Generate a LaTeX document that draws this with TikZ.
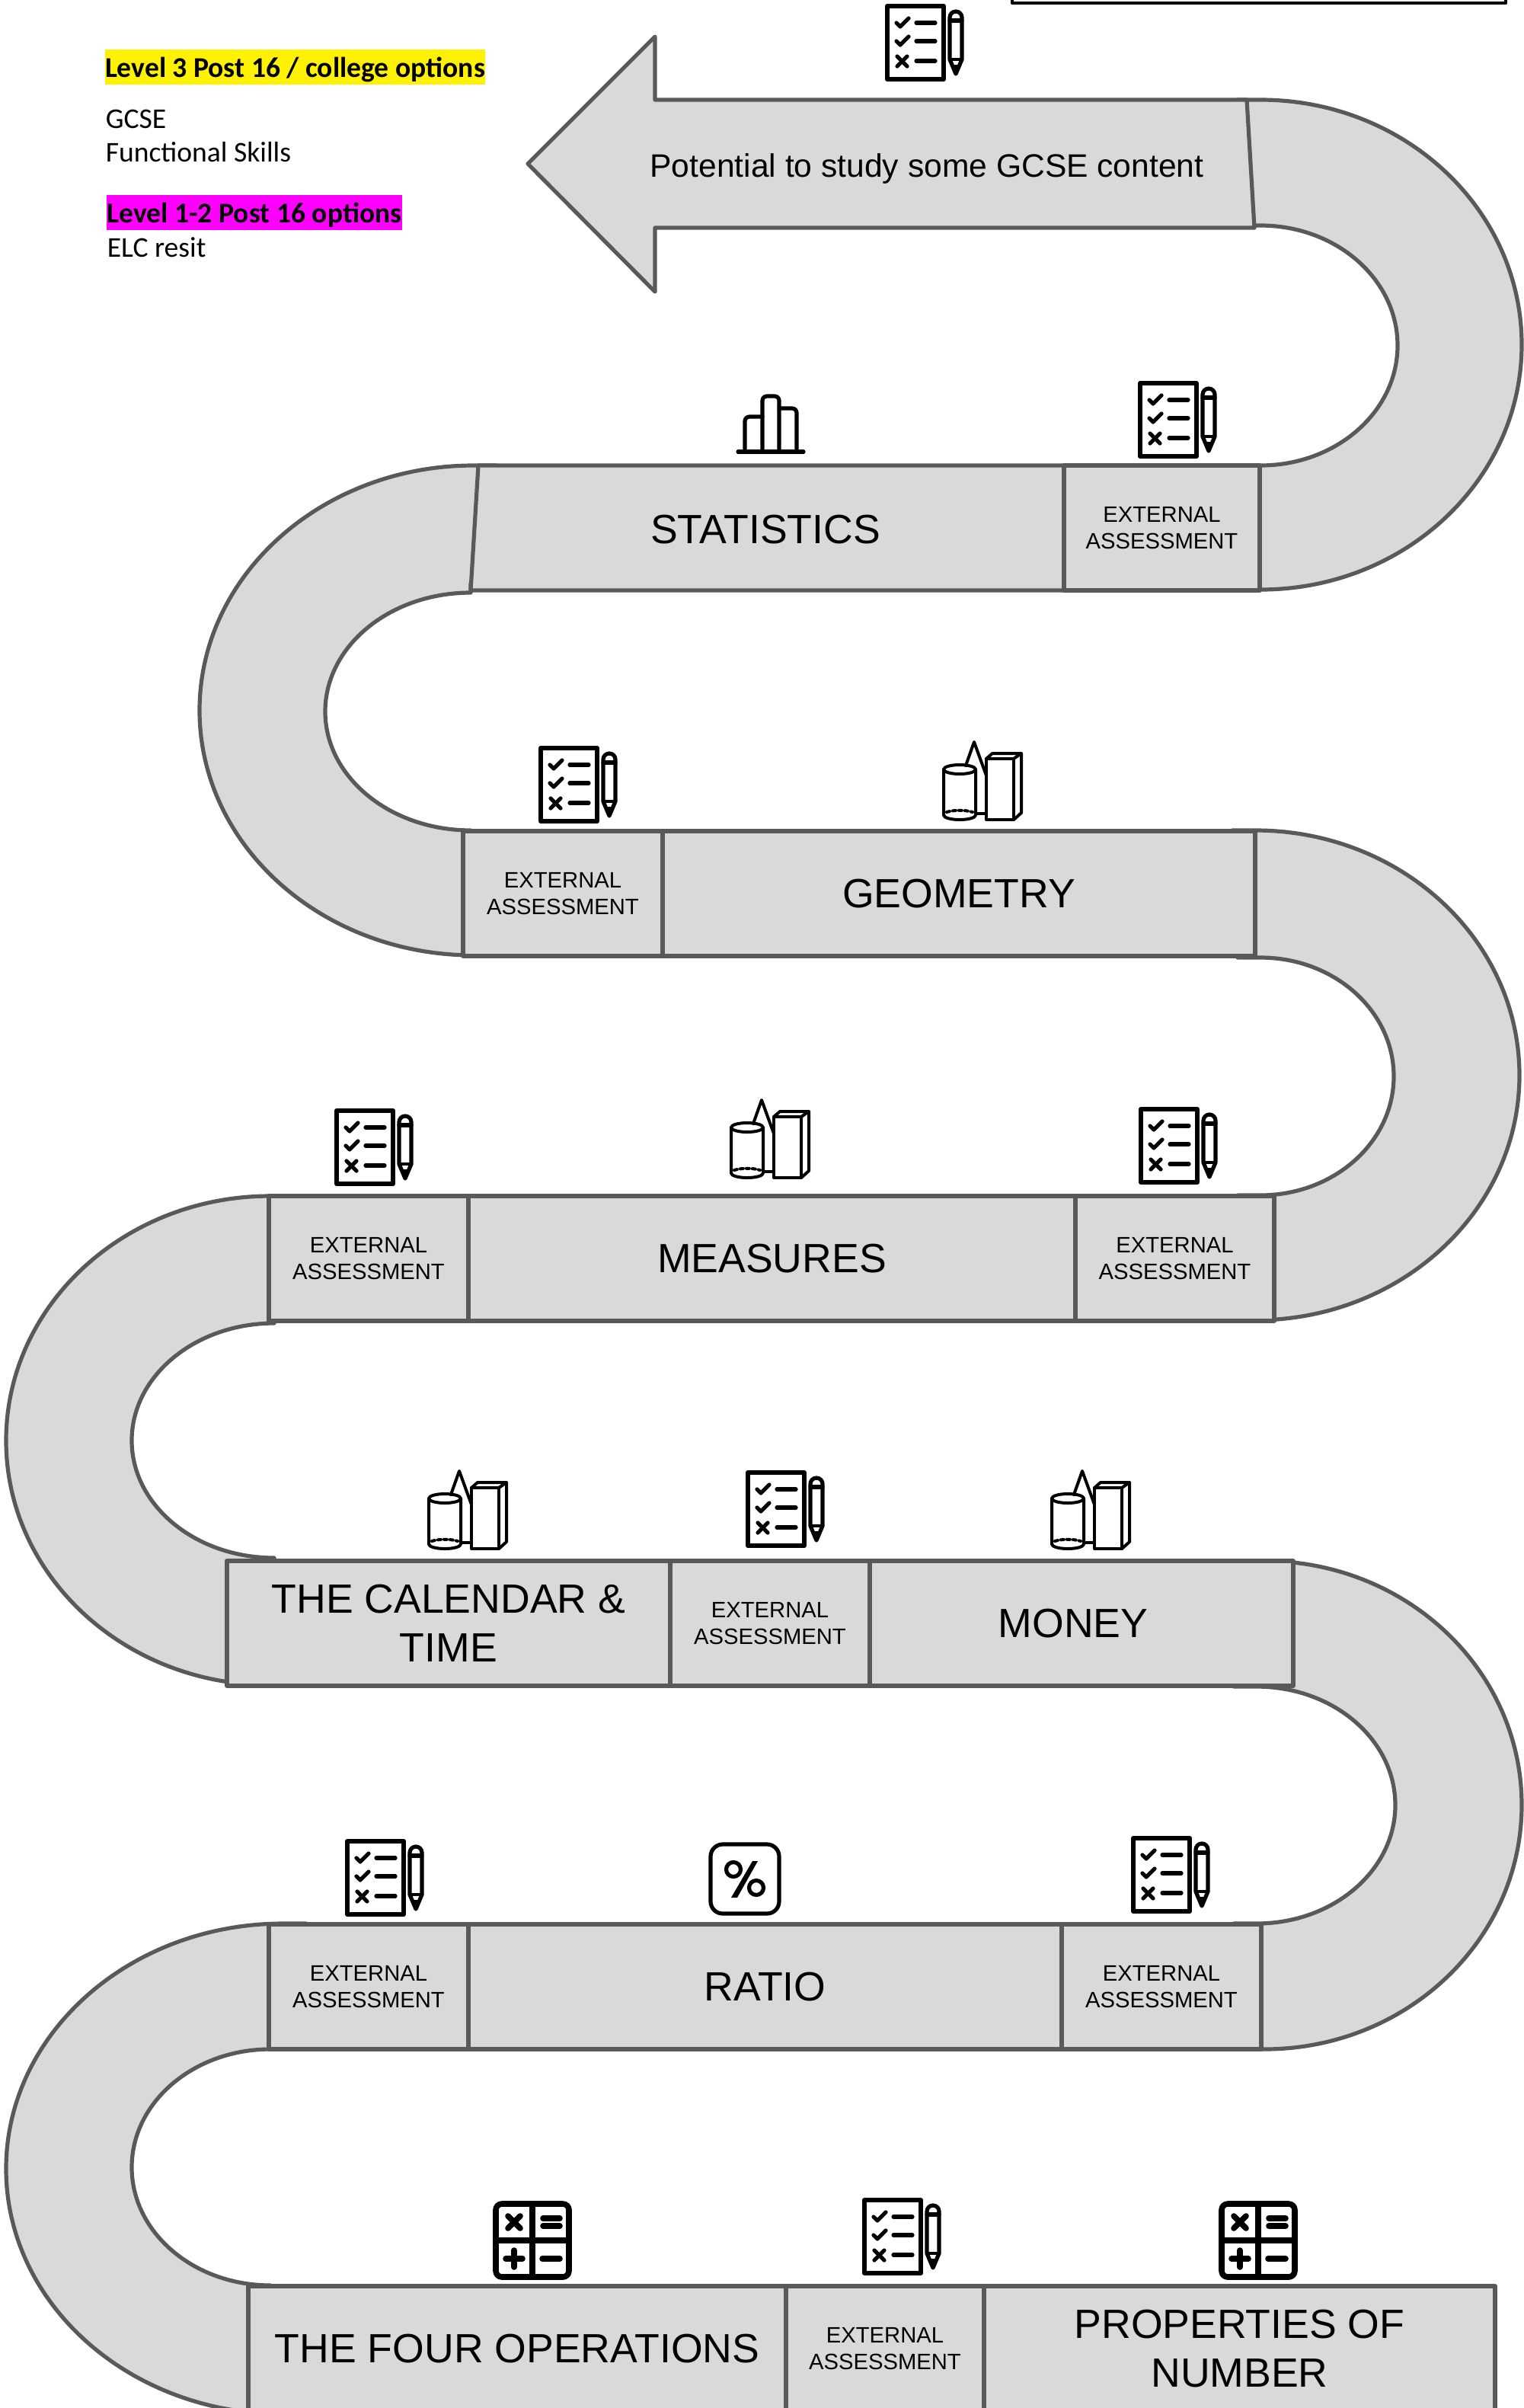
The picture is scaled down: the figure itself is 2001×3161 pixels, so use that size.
\documentclass[tikz,border=0pt]{standalone}
\usepackage{fontspec}
\setmainfont{Liberation Sans}
\newfontfamily\legendfont{Carlito}

\begin{document}
\begin{tikzpicture}[x=0.25pt,y=-0.25pt,line join=round]
	
	\definecolor{bandgrey}{HTML}{D9D9D9}
	\definecolor{edgegrey}{HTML}{595959}
	\definecolor{legendpink}{HTML}{FF00FF}
	
	\tikzset{
		roadbend/.style={draw=edgegrey,fill=bandgrey,line width=1.3pt},
		roadcell/.style={draw=edgegrey,fill=bandgrey,line width=1.3pt,inner sep=0pt,outer sep=0pt,align=center,minimum height=164*0.25pt},
		bigtext/.style={font=\fontsize{13.4}{16}\selectfont},
		smalltext/.style={font=\fontsize{7.3}{8.75}\selectfont},
		icon/.style={draw=black,line width=1.3pt,line cap=round},
		thinicon/.style={draw=black,line width=1pt,line cap=round},
		legendhead/.style={inner sep=0pt,font=\legendfont\bfseries\fontsize{9.4}{11}\selectfont,text height=9pt,text depth=2.5pt},
		legendline/.style={inner sep=0pt,anchor=base west,font=\legendfont\fontsize{9.4}{11}\selectfont},
	}
	
	% Macro: U-turn of the road, bulging right
	% Arguments: outer x, outer top, outer radii, inner x, inner bottom, inner radii
	\newcommand{\BendRight}[8]{%
		\draw[roadbend] (#1-30,#2) -- (#1,#2)
		arc[start angle=-90,end angle=90,x radius=#3,y radius=#4]
		-- (#1-30,#2+2*#4) -- (#5-30,#6) -- (#5,#6)
		arc[start angle=90,end angle=-90,x radius=#7,y radius=#8]
		-- (#5-30,#6-2*#8) -- cycle;
	}
	% Same, bulging left (the inner ends turn in under the boxes)
	\newcommand{\BendLeft}[8]{%
		\draw[roadbend] (#1+30,#2) -- (#1,#2)
		arc[start angle=-90,end angle=-270,x radius=#3,y radius=#4]
		-- (#1+30,#2+2*#4) -- (#5+30,#6+12) -- (#5,#6+12) -- (#5,#6)
		arc[start angle=90,end angle=270,x radius=#7,y radius=#8]
		-- (#5,#6-2*#8-12) -- (#5+30,#6-2*#8-12) -- cycle;
	}
	
	% Macro: one box of the road
	% Arguments: text style, name, left x, right x, top y, text
	\newcommand{\BandCell}[6]{%
		\node[roadcell,#1,minimum width={(#4-#3)*0.25pt}] (#2) at ({(#3+#4)/2},#5+82) {#6};
	}
	
	% Macro: checklist with pencil (arguments: left x, top y)
	\newcommand{\ChecklistIcon}[2]{%
		\begin{scope}[shift={(#1,#2)}]
			\draw[icon,line width=1.5pt] (3,3) rectangle (77,99);
			\foreach \rowy in {25,49}{
				\draw[icon] (15,\rowy) -- (20,\rowy+5) -- (31,\rowy-6);
			}
			\draw[icon] (16,69) -- (29,82);
			\draw[icon] (16,82) -- (29,69);
			\foreach \rowy in {25,49,75}{
				\draw[icon] (41,\rowy) -- (66,\rowy);
			}
			% pencil
			\draw[icon] (85,73) -- (85,18) arc[start angle=180,end angle=360,radius=8] -- (101,73) -- (93,92) -- cycle;
			\draw[icon] (85,22) -- (101,22);
			\draw[thinicon] (85,73) -- (101,73);
			\fill (89,80) -- (97,80) -- (93,92) -- cycle;
		\end{scope}
	}
	
	% Macro: cylinder, cone and box (arguments: left x, top y)
	\newcommand{\SolidsIcon}[2]{%
		\begin{scope}[shift={(#1,#2)}]
			\draw[thinicon] (30,32) -- (41,1) -- (57,45);
			\draw[thinicon] (43,95) -- (57,95);
			\draw[thinicon] (1,37) -- (1,97) arc[start angle=180,end angle=0,x radius=21,y radius=6] -- (43,37);
			\draw[thinicon] (22,37) ellipse [x radius=21,y radius=6];
			\draw[thinicon,densely dotted] (5,93) .. controls (15,90) and (29,90) .. (39,93);
			\draw[thinicon] (57,23) rectangle (93,103);
			\draw[thinicon] (57,23) -- (65,16) -- (103,16) -- (93,23);
			\draw[thinicon] (103,16) -- (103,94) -- (93,103);
		\end{scope}
	}
	
	% Macro: four-cell calculator (arguments: left x, top y)
	\newcommand{\CalcIcon}[2]{%
		\begin{scope}[shift={(#1,#2)}]
			\draw[icon,line width=1.9pt,rounded corners=2pt] (4,4) rectangle (100,100);
			\draw[icon,line width=1.9pt] (52,4) -- (52,100);
			\draw[icon,line width=1.9pt] (4,52) -- (100,52);
			\draw[icon,line width=1.9pt] (20,20) -- (36,36);
			\draw[icon,line width=1.9pt] (20,36) -- (36,20);
			\draw[icon,line width=1.9pt] (66,23) -- (88,23);
			\draw[icon,line width=1.9pt] (66,33) -- (88,33);
			\draw[icon,line width=1.9pt] (17,76) -- (39,76);
			\draw[icon,line width=1.9pt] (28,65) -- (28,87);
			\draw[icon,line width=1.9pt] (65,76) -- (88,76);
		\end{scope}
	}
	
	\clip (0,0) rectangle (2001,3161);
	
	%========================================
	% Legend and the box cut off at the top
	%========================================
	\draw[black,line width=1.1pt,fill=white] (1329,-30) rectangle (1977,4);
	
	\node[legendhead,fill=yellow,minimum width=499*0.25pt] (levelthree) at (387.5,88) {Level 3 Post 16 / college options};
	\node[legendline] (gcse) at (138,168) {GCSE};
	\node[legendline] (functional) at (138,212) {Functional Skills};
	\node[legendhead,fill=legendpink,minimum width=388*0.25pt] (levelone) at (334,279) {Level 1-2 Post 16 options};
	\node[legendline] (elc) at (140,337) {ELC resit};
	
	%========================================
	% U-turns (drawn first, the boxes cover their ends)
	%========================================
	\BendRight{1655}{131}{343}{321.5}{1655}{611}{180}{157.5}
	\BendLeft{622}{611}{360}{321.5}{618}{1090}{191}{156}
	\BendRight{1648}{1090}{347}{321.5}{1655}{1569}{175}{156}
	\BendLeft{355}{1570}{347}{321}{360}{2045}{187}{154}
	\BendRight{1660}{2049}{338}{320.5}{1650}{2525}{182}{155.5}
	\BendLeft{372}{2525}{364}{322}{355}{3000}{182}{155}
	
	%========================================
	% Finish: arrow pointing left
	%========================================
	\draw[roadbend] (1637,131) -- (860,131) -- (860,48) -- (693,215) -- (860,383) -- (860,299) -- (1647,299) -- cycle;
	\node[font=\fontsize{10.65}{13}\selectfont] (potential) at (1217,221) {Potential to study some GCSE content};
	
	%========================================
	% Row 1
	%========================================
	\draw[roadbend] (628,611) -- (1397,611) -- (1397,775) -- (618,775) -- cycle;
	\node[bigtext] (statistics) at (1005,695) {STATISTICS};
	\BandCell{smalltext}{assessone}{1397}{1654}{611}{EXTERNAL\\ASSESSMENT}
	
	%========================================
	% Row 2
	%========================================
	\BandCell{smalltext}{assesstwo}{608}{870}{1091}{EXTERNAL\\ASSESSMENT}
	\BandCell{bigtext}{geometry}{870}{1648}{1091}{GEOMETRY}
	
	%========================================
	% Row 3
	%========================================
	\BandCell{smalltext}{assessthree}{353}{615}{1570}{EXTERNAL\\ASSESSMENT}
	\BandCell{bigtext}{measures}{615}{1412}{1570}{MEASURES}
	\BandCell{smalltext}{assessfour}{1412}{1673}{1570}{EXTERNAL\\ASSESSMENT}
	
	%========================================
	% Row 4
	%========================================
	\BandCell{bigtext}{calendar}{298}{880}{2049}{THE CALENDAR \&\\TIME}
	\BandCell{smalltext}{assessfive}{880}{1142}{2049}{EXTERNAL\\ASSESSMENT}
	\BandCell{}{moneybox}{1142}{1698}{2049}{}
	\node[bigtext] (money) at (1409,2131) {MONEY};
	
	%========================================
	% Row 5
	%========================================
	\BandCell{smalltext}{assesssix}{353}{615}{2526}{EXTERNAL\\ASSESSMENT}
	\BandCell{bigtext}{ratio}{615}{1394}{2526}{RATIO}
	\BandCell{smalltext}{assessseven}{1394}{1656}{2526}{EXTERNAL\\ASSESSMENT}
	
	%========================================
	% Row 6 (start, runs off the page)
	%========================================
	\BandCell{bigtext}{fourops}{326}{1032}{3001}{THE FOUR OPERATIONS}
	\BandCell{smalltext}{assesseight}{1032}{1292}{3001}{EXTERNAL\\ASSESSMENT}
	\BandCell{bigtext}{properties}{1292}{1963}{3001}{PROPERTIES OF\\NUMBER}
	
	%========================================
	% Icons
	%========================================
	\ChecklistIcon{1162}{5}
	\ChecklistIcon{1494}{500}
	\ChecklistIcon{707}{979}
	\ChecklistIcon{439}{1455}
	\ChecklistIcon{1495}{1453}
	\ChecklistIcon{979}{1930}
	\ChecklistIcon{453}{2414}
	\ChecklistIcon{1485}{2410}
	\ChecklistIcon{1132}{2885}
	
	\SolidsIcon{1238}{973}
	\SolidsIcon{959}{1443}
	\SolidsIcon{562}{1930}
	\SolidsIcon{1380}{1930}
	
	\CalcIcon{647}{2889}
	\CalcIcon{1600}{2889}
	
	% Bar chart above STATISTICS
	\draw[icon] (969,593) -- (1055,593);
	\draw[icon,rounded corners=1.5pt] (978,593) -- (978,547) -- (1001,547);
	\draw[icon,rounded corners=1.5pt] (1001,593) -- (1001,520) -- (1023,520) -- (1023,593);
	\draw[icon,rounded corners=1.5pt] (1023,536) -- (1046,536) -- (1046,593);
	
	% Percent sign in a rounded square
	\draw[icon,rounded corners=4pt] (933,2421) rectangle (1023,2512);
	\draw[icon] (963,2454) circle [radius=9.5];
	\draw[icon] (993,2478) circle [radius=9.5];
	\fill (988,2443) -- (995,2443) -- (968,2491) -- (960,2491) -- cycle;
	
\end{tikzpicture}
\end{document}
